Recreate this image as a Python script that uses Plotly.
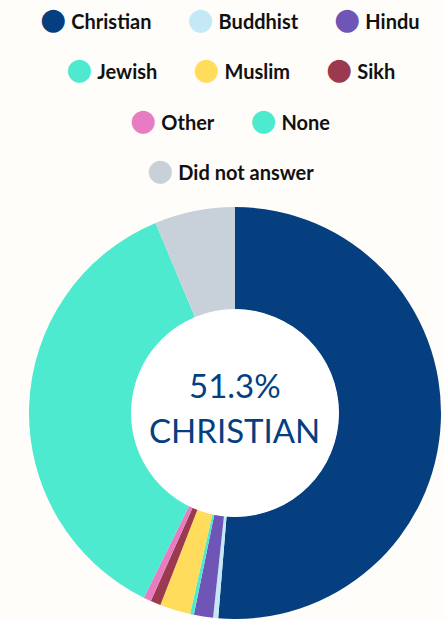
import plotly.graph_objects as go

labels = ["Christian", "Buddhist", "Hindu", "Jewish", "Muslim", "Sikh", "Other", "None", "Did not answer"]
values = [51.3, 0.4, 1.5, 0.3, 2.4, 0.8, 0.6, 36.4, 6.3]
colors = ["#053f7f", "#c5e8f7", "#6f56b6", "#4deacf", "#ffdc5c", "#9b3a4e", "#e77cc2", "#4deacf", "#c8d0d9"]
legend_rows = [[0, 1, 2], [3, 4, 5], [6, 7], [8]]

W, H = 445, 619
BG = "#fffdf9"
cx, cy, R, r_in = 235, 413, 207, 104

fig = go.Figure()
fig.add_trace(go.Pie(
    labels=labels, values=values, sort=False, direction="clockwise", rotation=0,
    hole=r_in / R, marker=dict(colors=colors, line=dict(width=0)),
    textinfo="none", hoverinfo="label+percent", showlegend=False,
    domain=dict(x=[(cx - R) / W, (cx + R) / W], y=[0, 2 * (H - cy) / H]),
))

# white hole fill
fig.add_shape(type="circle", xref="paper", yref="paper",
              x0=(cx - r_in) / W, x1=(cx + r_in) / W,
              y0=(H - cy - r_in) / H, y1=(H - cy + r_in) / H,
              fillcolor="#ffffff", line=dict(width=0), layer="above")

# center label (two lines)
for txt, yy in ((f"{values[0]}%", 385), (labels[0].upper(), 430)):
    fig.add_annotation(x=cx / W, y=(H - yy) / H, xref="paper", yref="paper",
                       text=txt, showarrow=False,
                       font=dict(family="Lato", size=33, color="#053f7f"),
                       xanchor="center", yanchor="middle", align="center")

# legend rows
gap = "\u00a0" * 7
row_y = [18, 68, 119, 169]
for ri, row in enumerate(legend_rows):
    parts = []
    for i in row:
        parts.append(f'<span style="color:{colors[i]};font-size:30px;font-family:DejaVu Sans">●</span>\u00a0<b>{labels[i]}</b>')
    fig.add_annotation(x=230 / W, y=(H - row_y[ri]) / H, xref="paper", yref="paper",
                       text=gap.join(parts), showarrow=False,
                       font=dict(family="Lato", size=20, color="#111111"),
                       xanchor="center", yanchor="middle")

fig.update_layout(width=W, height=H, margin=dict(l=0, r=0, t=0, b=0),
                  paper_bgcolor=BG, plot_bgcolor=BG)
fig.update_layout(font=dict(family="Lato"))
fig.write_html("out.html")
